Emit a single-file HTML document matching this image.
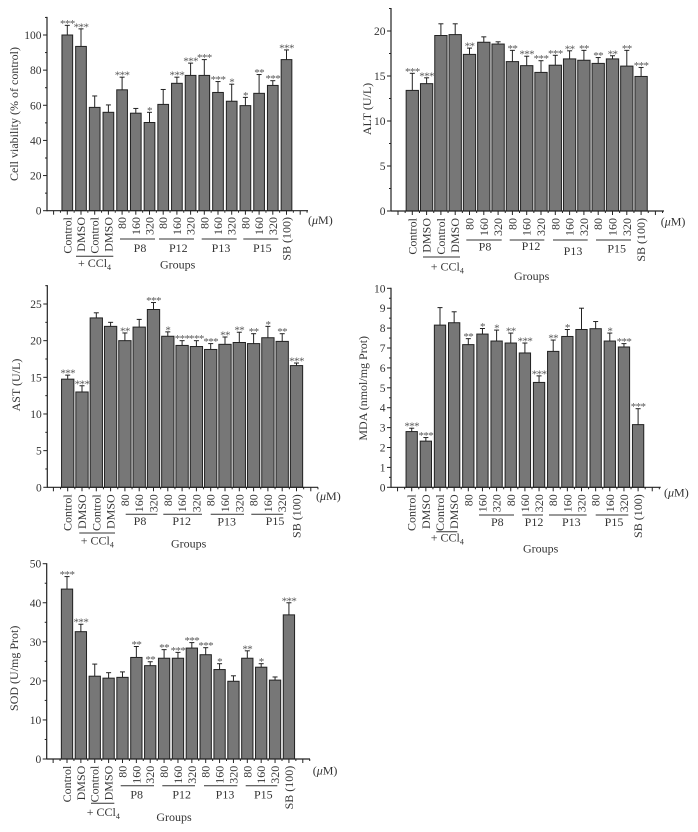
<!DOCTYPE html>
<html lang="en">
<head>
<meta charset="utf-8">
<title>Hepatoprotective assays bar charts</title>
<style>
html,body{margin:0;padding:0;background:#fff;}
#figure{display:block;width:698px;height:832px;font-family:"Liberation Serif",serif;filter:blur(0.3px);}
text{font-family:"Liberation Serif",serif;fill:#333;font-size:12px;}
.num{font-size:11.5px;}
.star{font-size:11px;fill:#555;text-anchor:middle;letter-spacing:-0.6px;}
</style>
</head>
<body>
<svg id="figure" xmlns="http://www.w3.org/2000/svg" width="698" height="832" viewBox="0 0 698 832"></svg>
<script>
// ---- shared categories ----
const categories = ["Control","DMSO","Control","DMSO","80","160","320","80","160","320","80","160","320","80","160","320","SB (100)"];

// ---- cell viability ----
const viabilityValues = [100,93.5,58.8,56,68.8,55.5,50.2,60.5,72.5,77,77,67.3,62.3,59.8,66.8,71.3,86];
const viabilityErrorTops = [105.5,103.5,65.3,60.2,76,58.2,56,69,76,84,86,73.5,72,64.5,77.5,74,91.5];
const viabilityStars = ["***","***","","","***","","*","","***","***","***","***","*","*","**","***","***"];
const viabilityTicks = [0,20,40,60,80,100];

// ---- ALT ----
const altValues = [13.4,14.15,19.5,19.6,17.4,18.75,18.55,16.6,16.15,15.4,16.2,16.9,16.75,16.4,16.9,16.1,14.95];
const altErrorTops = [15.3,14.8,20.8,20.8,18.1,19.35,18.8,17.85,17.2,16.7,17.3,17.8,17.85,17.05,17.25,17.85,15.95];
const altStars = ["***","***","","","**","","","**","***","***","***","**","**","**","**","**","***"];
const altTicks = [0,5,10,15,20];

// ---- AST ----
const astValues = [14.75,13,23.1,21.95,20,21.85,24.25,20.6,19.35,19.2,18.8,19.5,19.75,19.6,20.4,19.9,16.6];
const astErrorTops = [15.3,13.85,23.8,22.5,21.05,22.9,25.2,21.2,20,20,19.6,20.5,21.15,20.95,21.95,20.95,16.95];
const astStars = ["***","***","","","**","","***","*","***","***","***","**","**","**","*","**","***"];
const astTicks = [0,5,10,15,20,25];

// ---- MDA ----
const mdaValues = [2.8,2.32,8.15,8.27,7.17,7.7,7.35,7.25,6.75,5.27,6.83,7.58,7.93,7.97,7.35,7.05,3.15];
const mdaErrorTops = [2.97,2.5,9.03,8.82,7.47,7.98,7.9,7.75,7.25,5.6,7.4,7.93,9,8.33,7.75,7.22,3.95];
const mdaStars = ["***","***","","","**","*","*","**","***","***","**","*","","","*","***","***"];
const mdaTicks = [0,1,2,3,4,5,6,7,8,9,10];

// ---- SOD ----
const sodValues = [43.5,32.6,21.2,20.7,20.9,26,23.9,25.8,25.8,28.4,26.7,22.9,19.9,25.8,23.5,20.2,36.9];
const sodErrorTops = [46.7,34.5,24.3,22.1,22.3,28.8,24.9,28,27.3,29.8,28.5,24.4,21.3,27.7,24.4,21,40];
const sodStars = ["***","***","","","","**","**","**","***","***","***","*","","**","*","","***"];
const sodTicks = [0,10,20,30,40,50];

const groupNames = ["P8","P12","P13","P15"];

const NS = "http://www.w3.org/2000/svg";
const svg = document.getElementById("figure");

function make(tag, parent, props) {
  const el = document.createElementNS(NS, tag);
  for (const k in props) el.setAttribute(k, props[k]);
  parent.appendChild(el);
  return el;
}
function line(parent, x1, y1, x2, y2, w, color) {
  return make("line", parent, {x1, y1, x2, y2, stroke: color || "#222", "stroke-width": w || 1});
}

function drawChart(slug, title, values, errorTops, stars, ticks, L) {
  const g = make("g", svg, {});
  
  

  const yMap = v => L.y0 - (v / L.yRef) * (L.y0 - L.yRefPx);
  const xMap = i => L.x0 + i * L.step;
  const yTopPx = yMap(L.yMax);

  // bars, errors, significance
  categories.forEach((cat, i) => {
    const cx = xMap(i);
    const err = make("g", g, {});
    
    
    line(err, cx, yMap(values[i]), cx, yMap(errorTops[i]), 1);
    line(err, cx - 2.5, yMap(errorTops[i]), cx + 2.5, yMap(errorTops[i]), 1);

    const bar = make("rect", g, {x: cx - L.barW / 2, y: yMap(values[i]), width: L.barW, height: L.y0 - yMap(values[i]), fill: "#777", stroke: "#222", "stroke-width": 1});
    
    

    if (stars[i]) {
      const s = make("text", g, {x: cx, y: yMap(errorTops[i]) + 1.5, class: "star"});
      s.textContent = stars[i];
      
      
    }

    const lab = make("text", g, {transform: "translate(" + (cx + 4) + "," + L.labelTop + ") rotate(-90)", "text-anchor": "end"});
    lab.textContent = cat;
    
    
  });

  // y axis
  const yAxis = make("g", g, {});
  
  
  line(yAxis, L.axisX, yTopPx - 0.5, L.axisX, L.y0 + 0.5, 1.2);
  const major = ticks[1] - ticks[0];
  for (let k = 0; k * major / 2 <= L.yMax + 1e-9; k++) {
    const y = yMap(k * major / 2);
    line(yAxis, L.axisX - (k % 2 ? 2 : 4), y, L.axisX, y, 1);
  }
  ticks.forEach(t => {
    const tl = make("text", yAxis, {x: L.axisX - 5.5, y: yMap(t) + 4, "text-anchor": "end", class: "num"});
    tl.textContent = t;
    
    
  });
  const yt = make("text", g, {transform: "translate(" + L.titleX + "," + L.titleY + ") rotate(-90)", "text-anchor": "middle"});
  yt.textContent = title;
  
  

  // x axis
  const xAxis = make("g", g, {});
  
  
  line(xAxis, L.axisX, L.y0, L.axisEnd, L.y0, 1.2);
  for (let k = -6; k < 44; k++) {
    const x = L.x0 + k * L.step / 2;
    if (x <= L.axisX + 1 || x > L.axisEnd) continue;
    line(xAxis, x, L.y0, x, L.y0 + (k % 2 ? 2 : 4), 1);
  }

  // dose-group brackets and names
  groupNames.forEach((name, i) => {
    const b = L.brackets[i];
    const u = line(g, b[0], L.bracketY, b[1], L.bracketY, 1, "#333");
    
    
    const t = make("text", g, {x: L.groupLabels[i][0], y: L.groupLabels[i][1], "text-anchor": "middle"});
    t.textContent = name;
    
    
  });

  // + CCl4
  const cl = line(g, L.cclLine[0], L.cclLine[2], L.cclLine[1], L.cclLine[2], 1, "#333");
  
  
  const cct = make("text", g, {x: L.cclText[0], y: L.cclText[1], "text-anchor": "middle"});
  
  
  cct.appendChild(document.createTextNode("+ CCl"));
  const sub = make("tspan", cct, {dy: 3, "font-size": 8});
  sub.textContent = "4";

  // Groups title
  const gr = make("text", g, {x: L.groupsTitle[0], y: L.groupsTitle[1], "text-anchor": "middle"});
  gr.textContent = "Groups";
  
  

  // unit
  const un = make("text", g, {x: L.unit[0], y: L.unit[1]});
  
  
  un.appendChild(document.createTextNode("("));
  const mu = make("tspan", un, {"font-style": "italic"});
  mu.textContent = "\u03BC";
  un.appendChild(document.createTextNode("M)"));
}

drawChart("cell-viability", "Cell viability (% of control)", viabilityValues, viabilityErrorTops, viabilityStars, viabilityTicks, {
  axisX: 47, axisEnd: 308, y0: 210.7, yRef: 100, yRefPx: 35, yMax: 110,
  x0: 67.3, step: 13.7, barW: 10.7, labelTop: 217, titleX: 18, titleY: 114,
  bracketY: 239, brackets: [[120,155],[159,194],[201.7,236.7],[243.3,278.3]],
  groupLabels: [[140,252],[178.3,252],[221,252],[262.3,252]],
  cclLine: [76,113.3,256.3], cclText: [94.5,267], groupsTitle: [177.7,268.5], unit: [308,224]
});
drawChart("alt", "ALT (U/L)", altValues, altErrorTops, altStars, altTicks, {
  axisX: 391, axisEnd: 664, y0: 211, yRef: 20, yRefPx: 31, yMax: 22.5,
  x0: 412.3, step: 14.3, barW: 12.3, labelTop: 218, titleX: 371, titleY: 109,
  bracketY: 240, brackets: [[466.3,501.7],[509.7,544.3],[553,587.7],[596,631]],
  groupLabels: [[485,250.7],[531,250],[573,255],[616.7,252.3]],
  cclLine: [423,460,257], cclText: [447.3,270.7], groupsTitle: [531.7,280], unit: [660.7,225.7]
});
drawChart("ast", "AST (U/L)", astValues, astErrorTops, astStars, astTicks, {
  axisX: 47.3, axisEnd: 318, y0: 487.3, yRef: 25, yRefPx: 304, yMax: 27.5,
  x0: 67.7, step: 14.3, barW: 12.3, labelTop: 494.3, titleX: 20, titleY: 385,
  bracketY: 514.3, brackets: [[125.7,157.3],[163.3,202],[210.7,244],[251.3,283.3]],
  groupLabels: [[140,525],[181.7,525],[226.7,525.7],[275,525]],
  cclLine: [79.3,115,533], cclText: [97.3,544.3], groupsTitle: [188.7,547.3], unit: [316,500]
});
drawChart("mda", "MDA (nmol/mg Prot)", mdaValues, mdaErrorTops, mdaStars, mdaTicks, {
  axisX: 391, axisEnd: 660.7, y0: 487.3, yRef: 10, yRefPx: 288.3, yMax: 10,
  x0: 411.7, step: 14.15, barW: 11.3, labelTop: 494.3, titleX: 367, titleY: 388.3,
  bracketY: 515, brackets: [[479,514],[522.3,543],[549,586.7],[595.7,628.3]],
  groupLabels: [[497.3,526],[534,526],[571.3,526],[614,526]],
  cclLine: [436.3,457.3,531.7], cclText: [447.3,541.7], groupsTitle: [540.7,552.7], unit: [664,496.7]
});
drawChart("sod", "SOD (U/mg Prot)", sodValues, sodErrorTops, sodStars, sodTicks, {
  axisX: 46.7, axisEnd: 310, y0: 759, yRef: 50, yRefPx: 563.7, yMax: 50,
  x0: 67, step: 13.87, barW: 11.3, labelTop: 765.7, titleX: 18, titleY: 668.3,
  bracketY: 785.7, brackets: [[120.7,154],[162.3,195],[204,237.3],[245.7,277.3]],
  groupLabels: [[136.7,798.3],[181.7,798.3],[225,798.3],[263.3,798.3]],
  cclLine: [91,114.3,803.3], cclText: [103.3,816], groupsTitle: [174,821], unit: [312.7,774.3]
});
</script>
</body>
</html>
